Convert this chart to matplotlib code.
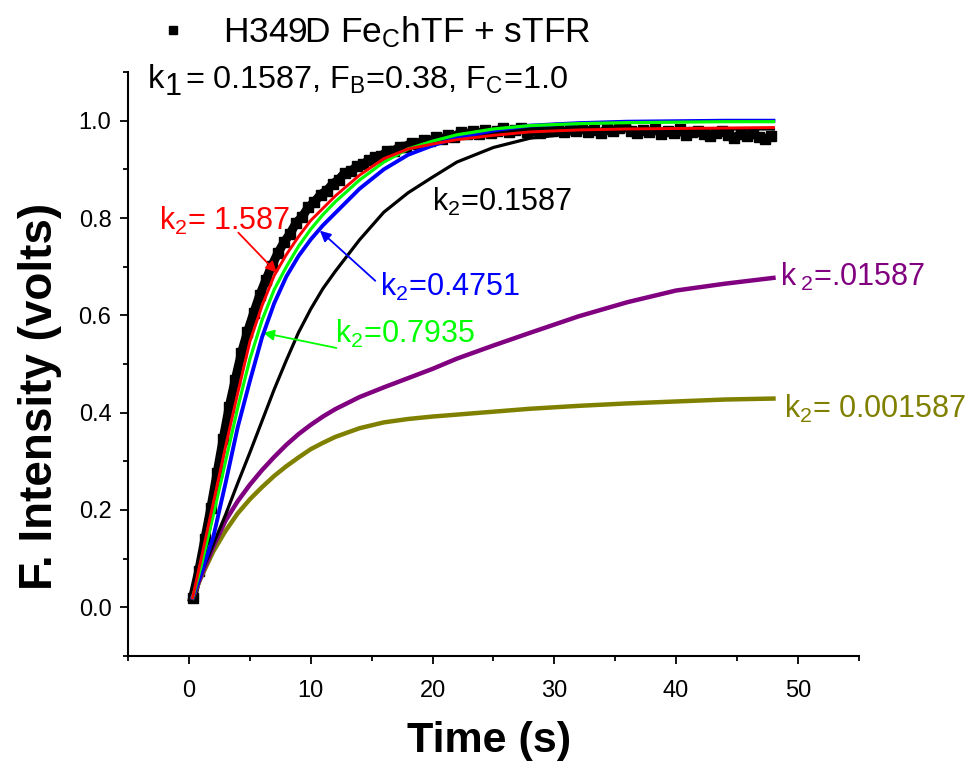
import numpy as np
import matplotlib
matplotlib.use("Agg")
import matplotlib.pyplot as plt
from matplotlib.lines import Line2D
from matplotlib.ticker import MultipleLocator

plt.rcParams['font.family'] = ['Liberation Sans', 'DejaVu Sans']
plt.rcParams['mathtext.fontset'] = 'custom'
plt.rcParams['mathtext.rm'] = 'Liberation Sans'
plt.rcParams['mathtext.default'] = 'regular'

# --- dados medidos (quadrados pretos), amostrados a cada 0.5 s ---
t_dados = np.arange(0.3, 48.0, 0.5)
y_dados = [0.020, 0.075, 0.140, 0.205, 0.275, 0.345, 0.412, 0.468, 0.522, 0.566,
           0.604, 0.641, 0.672, 0.702, 0.728, 0.750, 0.768, 0.790, 0.803, 0.822,
           0.833, 0.848, 0.856, 0.870, 0.879, 0.893, 0.896, 0.907, 0.911, 0.919,
           0.926, 0.928, 0.937, 0.938, 0.946, 0.947, 0.955, 0.953, 0.960, 0.958,
           0.966, 0.962, 0.970, 0.967, 0.976, 0.972, 0.978, 0.973, 0.981, 0.975,
           0.979, 0.984, 0.976, 0.980, 0.986, 0.977, 0.981, 0.975, 0.983, 0.978,
           0.986, 0.976, 0.982, 0.979, 0.987, 0.977, 0.981, 0.974, 0.983, 0.979,
           0.985, 0.990, 0.978, 0.974, 0.981, 0.976, 0.983, 0.972, 0.979, 0.975,
           0.982, 0.970, 0.976, 0.979, 0.972, 0.968, 0.975, 0.978, 0.970, 0.965,
           0.973, 0.969, 0.974, 0.966, 0.962, 0.968]

# --- curvas simuladas ---
t_sim = [0.3, 1, 2, 3, 4, 5, 6, 7, 8, 9, 10, 11, 12, 14, 16, 18, 20, 22, 25, 28,
         32, 36, 40, 44, 48]
y_k2_1587 = [0.02, 0.10, 0.215, 0.33, 0.44, 0.546, 0.62, 0.682, 0.725, 0.762,
             0.795, 0.82, 0.845, 0.888, 0.922, 0.942, 0.952, 0.961, 0.970, 0.977,
             0.981, 0.983, 0.984, 0.985, 0.986]
y_k2_07935 = [0.02, 0.085, 0.19, 0.30, 0.41, 0.51, 0.59, 0.653, 0.70, 0.742,
              0.777, 0.807, 0.833, 0.878, 0.915, 0.942, 0.958, 0.971, 0.983, 0.990,
              0.994, 0.996, 0.997, 0.998, 0.998]
y_k2_04751 = [0.02, 0.07, 0.145, 0.255, 0.37, 0.465, 0.555, 0.625, 0.68, 0.722,
              0.756, 0.785, 0.81, 0.86, 0.90, 0.93, 0.949, 0.965, 0.980, 0.990,
              0.995, 0.998, 0.999, 1.0, 1.0]
y_k2_01587 = [0.02, 0.07, 0.13, 0.19, 0.255, 0.318, 0.383, 0.448, 0.508, 0.565,
              0.613, 0.655, 0.69, 0.755, 0.812, 0.852, 0.884, 0.915, 0.945, 0.964,
              0.975, 0.981, 0.983, 0.983, 0.983]
y_k2_001587 = [0.02, 0.065, 0.125, 0.178, 0.218, 0.252, 0.282, 0.309, 0.334, 0.356,
               0.375, 0.392, 0.407, 0.432, 0.452, 0.471, 0.49, 0.511, 0.538, 0.564,
               0.598, 0.627, 0.651, 0.665, 0.677]
y_k2_0001587 = [0.02, 0.062, 0.115, 0.157, 0.193, 0.222, 0.247, 0.27, 0.29, 0.308,
                0.325, 0.338, 0.35, 0.368, 0.38, 0.387, 0.392, 0.396, 0.402, 0.408,
                0.414, 0.419, 0.423, 0.427, 0.429]

fig = plt.figure(figsize=(9.78, 7.66), dpi=100)
ax = fig.add_axes([0.131, 0.1436, 0.747, 0.7624])

# dados
ax.plot(t_dados, y_dados, color='k', lw=6.5, marker='s', ms=7.5, zorder=2)

# curvas
ax.plot(t_sim, y_k2_0001587, color='#808000', lw=3.2, zorder=3)
ax.plot(t_sim, y_k2_001587, color='#800080', lw=3.2, zorder=3)
ax.plot(t_sim, y_k2_01587, color='k', lw=2.3, zorder=3)
ax.plot(t_sim, y_k2_04751, color='#0000FF', lw=2.8, zorder=4)
ax.plot(t_sim, y_k2_07935, color='#00FF00', lw=2.3, zorder=5)
ax.plot(t_sim, y_k2_1587, color='#FF0000', lw=2.1, zorder=6)

ax.set_xlim(-5, 55)
ax.set_ylim(-0.1001, 1.1001)
ax.xaxis.set_major_locator(MultipleLocator(10))
ax.xaxis.set_minor_locator(MultipleLocator(5))
ax.yaxis.set_major_locator(MultipleLocator(0.2))
ax.yaxis.set_minor_locator(MultipleLocator(0.1))
ax.yaxis.set_major_formatter(plt.FuncFormatter(lambda v, p: f"{v:.1f}"))
ax.spines['top'].set_visible(False)
ax.spines['right'].set_visible(False)
for s in ('left', 'bottom'):
    ax.spines[s].set_linewidth(1.5)
ax.tick_params(which='major', direction='out', length=6, width=1.3, labelsize=17)
ax.tick_params(which='minor', direction='out', length=3.5, width=1.3)
ax.tick_params(axis='x', pad=11)
ax.tick_params(axis='y', pad=6)

fig.text(40 / 978, 1 - 396 / 766, 'F. Intensity (volts)', rotation=90,
         ha='center', va='center', fontsize=33, fontweight='bold')
fig.text(489 / 978, 1 - 741 / 766, 'Time (s)', ha='center', va='center',
         fontsize=31, fontweight='bold')

# legenda e parametros
proxy = Line2D([], [], ls='none', marker='s', color='k', ms=6)
fig.legend(handles=[proxy], labels=['H349D Fe$_C$hTF + sTFR'], loc='center left',
           bbox_to_anchor=(154 / 978, 1 - 32 / 766), frameon=False, fontsize=25.5,
           handlelength=1.05, handletextpad=0.9, borderaxespad=0, borderpad=0)
fig.text(148 / 978, 1 - 80 / 766, 'k', fontsize=23.5, va='center')
fig.text(165 / 978, 1 - 87 / 766, '1', fontsize=22, va='center')
fig.text(185 / 978, 1 - 80 / 766, '= 0.1587, F$_B$=0.38, F$_C$=1.0', fontsize=23.3,
         va='center')

# rotulos das curvas
ax.text(-2.5, 0.794, 'k$_2$= 1.587', color='#FF0000', fontsize=22, va='center')
ax.text(19.95, 0.833, 'k$_2$=0.1587', color='k', fontsize=22, va='center')
ax.text(15.7, 0.658, 'k$_2$=0.4751', color='#0000FF', fontsize=22, va='center')
ax.text(12.0, 0.561, 'k$_2$=0.7935', color='#00FF00', fontsize=22, va='center')
ax.text(48.5, 0.678, r'k$\,_2$=.01587', color='#800080', fontsize=22, va='center')
ax.text(48.9, 0.408, 'k$_2$= 0.001587', color='#808000', fontsize=22, va='center')

arr = dict(arrowstyle='-|>', lw=1.3, mutation_scale=16, shrinkA=0, shrinkB=0)
ax.annotate('', xy=(7.2, 0.688), xytext=(4.05, 0.770), arrowprops=dict(arr, color='#FF0000'))
ax.annotate('', xy=(10.75, 0.774), xytext=(15.3, 0.671), arrowprops=dict(arr, color='#0000FF'))
ax.annotate('', xy=(6.1, 0.564), xytext=(12.1, 0.533), arrowprops=dict(arr, color='#00FF00'))

fig.savefig('out.png', dpi=100)
